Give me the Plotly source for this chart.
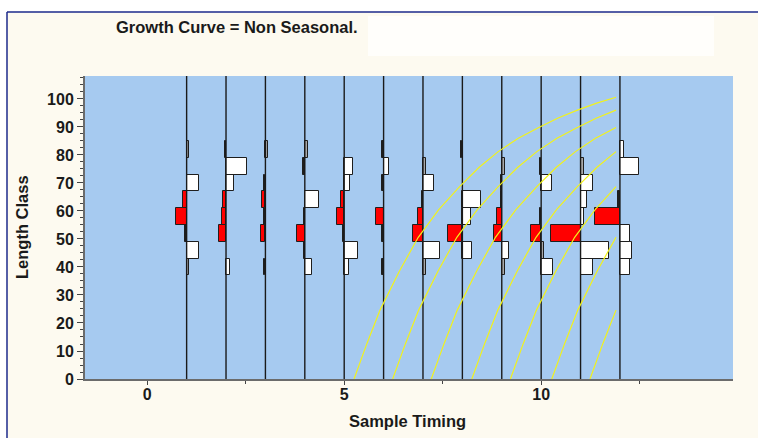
import plotly.graph_objects as go

# ---------------- data ----------------
sample_times = [1, 2, 3, 4, 5, 6, 7, 8, 9, 10, 11, 12]
length_bins = [40, 46, 52, 58, 64, 70, 76, 82]   # class mid-points
bin_width = 6

# restructured frequencies per sample (same order as length_bins);
# positive -> white bar to the right, negative -> red bar to the left
s01 = [0.07, 0.32, -0.04, -0.27, -0.10, 0.32, 0.00, 0.07]
s02 = [0.11, 0.00, -0.19, -0.09, -0.085, 0.19, 0.52, -0.03]
s03 = [-0.03, 0.00, -0.12, -0.04, -0.09, -0.03, 0.00, 0.07]
s04 = [0.17, -0.03, -0.20, -0.03, 0.36, 0.00, -0.04, 0.07]
s05 = [0.11, 0.34, -0.04, -0.19, -0.085, 0.15, 0.23, 0.00]
s06 = [-0.03, 0.00, -0.03, -0.19, 0.00, -0.03, 0.13, -0.03]
s07 = [0.07, 0.44, -0.26, -0.13, -0.03, 0.29, 0.07, 0.00]
s08 = [0.00, 0.25, -0.37, 0.22, 0.47, 0.00, 0.00, -0.03]
s09 = [0.09, 0.19, -0.19, -0.11, -0.03, -0.03, 0.09, 0.00]
s10 = [0.30, 0.08, -0.25, -0.03, 0.00, 0.27, -0.03, 0.00]
s11 = [0.32, 0.72, -0.74, 0.10, 0.17, 0.32, 0.08, 0.00]
s12 = [0.26, 0.30, 0.26, -0.63, -0.04, 0.00, 0.48, 0.11]
samples = [s01, s02, s03, s04, s05, s06, s07, s08, s09, s10, s11, s12]

# growth curve shape (age since birth -> length)
curve_age = [0, 0.33, 0.66, 1.15, 1.63, 2.15, 2.68, 3.17, 3.66, 4.17, 4.69, 5.18, 5.67, 6.16, 6.65]
curve_len = [0, 12.8, 24.6, 38.5, 50.6, 60.5, 68.7, 75.5, 81.2, 86.0, 89.8, 93.2, 96.0, 98.5, 100.6]
cohort_starts = [5.25, 6.23, 7.21, 8.24, 9.22, 10.27, 11.24]
curve_end = 11.9

title_text = "Growth Curve = Non Seasonal."
x_title = "Sample Timing"
y_title = "Length Class"

# ---------------- figure ----------------
W, H = 758, 438
L, R, T, B = 85, 25, 76, 59
PW, PH = W - L - R, H - T - B


def px_x(p):
    return (p - L) / PW


def px_y(p):
    return (H - B - p) / PH


fig = go.Figure()


def bar_colour(v):
    if v < 0:
        return "#1e1e1e" if v > -0.05 else "#FF0000"   # hairline bars look black
    return "#A9A9A9" if v < 0.1 else "#FFFFFF"          # narrow bars look grey


# histogram bars
bx, by, bb, bc = [], [], [], []
for t, vals in zip(sample_times, samples):
    for yb, v in zip(length_bins, vals):
        if v == 0:
            continue
        bx.append(v)
        by.append(yb)
        bb.append(t)
        bc.append(bar_colour(v))

fig.add_trace(go.Bar(
    orientation="h", x=bx, y=by, base=bb, width=bin_width,
    marker=dict(color=bc, line=dict(color="#1e1e1e", width=1)),
    hoverinfo="skip",
))

# vertical sample lines
vx, vy = [], []
for t in sample_times:
    vx += [t, t, None]
    vy += [0, 108.2, None]
fig.add_trace(go.Scatter(x=vx, y=vy, mode="lines",
                         line=dict(color="#1a1a1a", width=1.4), hoverinfo="skip"))

# growth curves
for s in cohort_starts:
    cx, cy = [], []
    for a, l in zip(curve_age, curve_len):
        if s + a <= curve_end + 1e-6:
            cx.append(s + a)
            cy.append(l)
    fig.add_trace(go.Scatter(x=cx, y=cy, mode="lines",
                             line=dict(color="#F2F21A", width=1.2), hoverinfo="skip"))

bold = dict(family="Liberation Sans, Arial, sans-serif", size=16, color="#1a1a1a", weight="bold")
title_font = dict(bold, size=16.5)

fig.update_layout(
    width=W, height=H,
    margin=dict(l=L, r=R, t=T, b=B),
    paper_bgcolor="#FDFAF0",
    plot_bgcolor="#A6CAF0",
    showlegend=False,
    barmode="overlay",
    bargap=0,
    font=bold,
)

fig.update_xaxes(
    range=[-1.58, 14.87], tick0=0, dtick=5,
    ticks="outside", ticklen=4, tickwidth=1, tickcolor="#444444",
    minor=dict(dtick=2.5, tick0=0, ticks="outside", ticklen=3, tickcolor="#444444"),
    showline=True, linecolor="#6b6b6b", linewidth=2,
    showgrid=False, zeroline=False, tickfont=bold, fixedrange=True,
    ticklabelstandoff=-4,
)
fig.update_yaxes(
    range=[0, 108.2], tick0=0, dtick=10,
    ticks="outside", ticklen=6, tickwidth=1, tickcolor="#444444",
    minor=dict(dtick=2.5, tick0=0, ticks="outside", ticklen=3, tickcolor="#444444"),
    showline=True, linecolor="#6b6b6b", linewidth=2,
    showgrid=False, zeroline=False, tickfont=bold, fixedrange=True,
)

shapes = [
    # white page outside the frame
    dict(type="rect", xref="paper", yref="paper", x0=px_x(0), x1=px_x(W), y0=px_y(0), y1=px_y(11.5),
         fillcolor="#FFFFFF", line=dict(width=0), layer="above"),
    dict(type="rect", xref="paper", yref="paper", x0=px_x(0), x1=px_x(6.5), y0=px_y(0), y1=px_y(H),
         fillcolor="#FFFFFF", line=dict(width=0), layer="above"),
    # frame border
    dict(type="line", xref="paper", yref="paper", x0=px_x(7), x1=px_x(W), y0=px_y(12), y1=px_y(12),
         line=dict(color="#1c2a8c", width=1.5), layer="above"),
    dict(type="line", xref="paper", yref="paper", x0=px_x(7), x1=px_x(7), y0=px_y(12), y1=px_y(H),
         line=dict(color="#1c2a8c", width=1.5), layer="above"),
    # whitish smudge next to the title
    dict(type="rect", xref="paper", yref="paper", x0=px_x(368), x1=px_x(714), y0=px_y(56), y1=px_y(16),
         fillcolor="#FFFFFF", opacity=0.7, line=dict(width=0), layer="below"),
]
fig.update_layout(shapes=shapes)

fig.add_annotation(text=title_text, xref="paper", yref="paper", x=px_x(114), y=px_y(27),
                   xanchor="left", yanchor="middle", showarrow=False, font=title_font)
fig.add_annotation(text=x_title, xref="paper", yref="paper", x=px_x(407), y=px_y(421),
                   xanchor="center", yanchor="middle", showarrow=False, font=title_font)
fig.add_annotation(text=y_title, xref="paper", yref="paper", x=px_x(22), y=px_y(227),
                   xanchor="center", yanchor="middle", textangle=-90, showarrow=False, font=title_font)

fig.write_html("out.html")
